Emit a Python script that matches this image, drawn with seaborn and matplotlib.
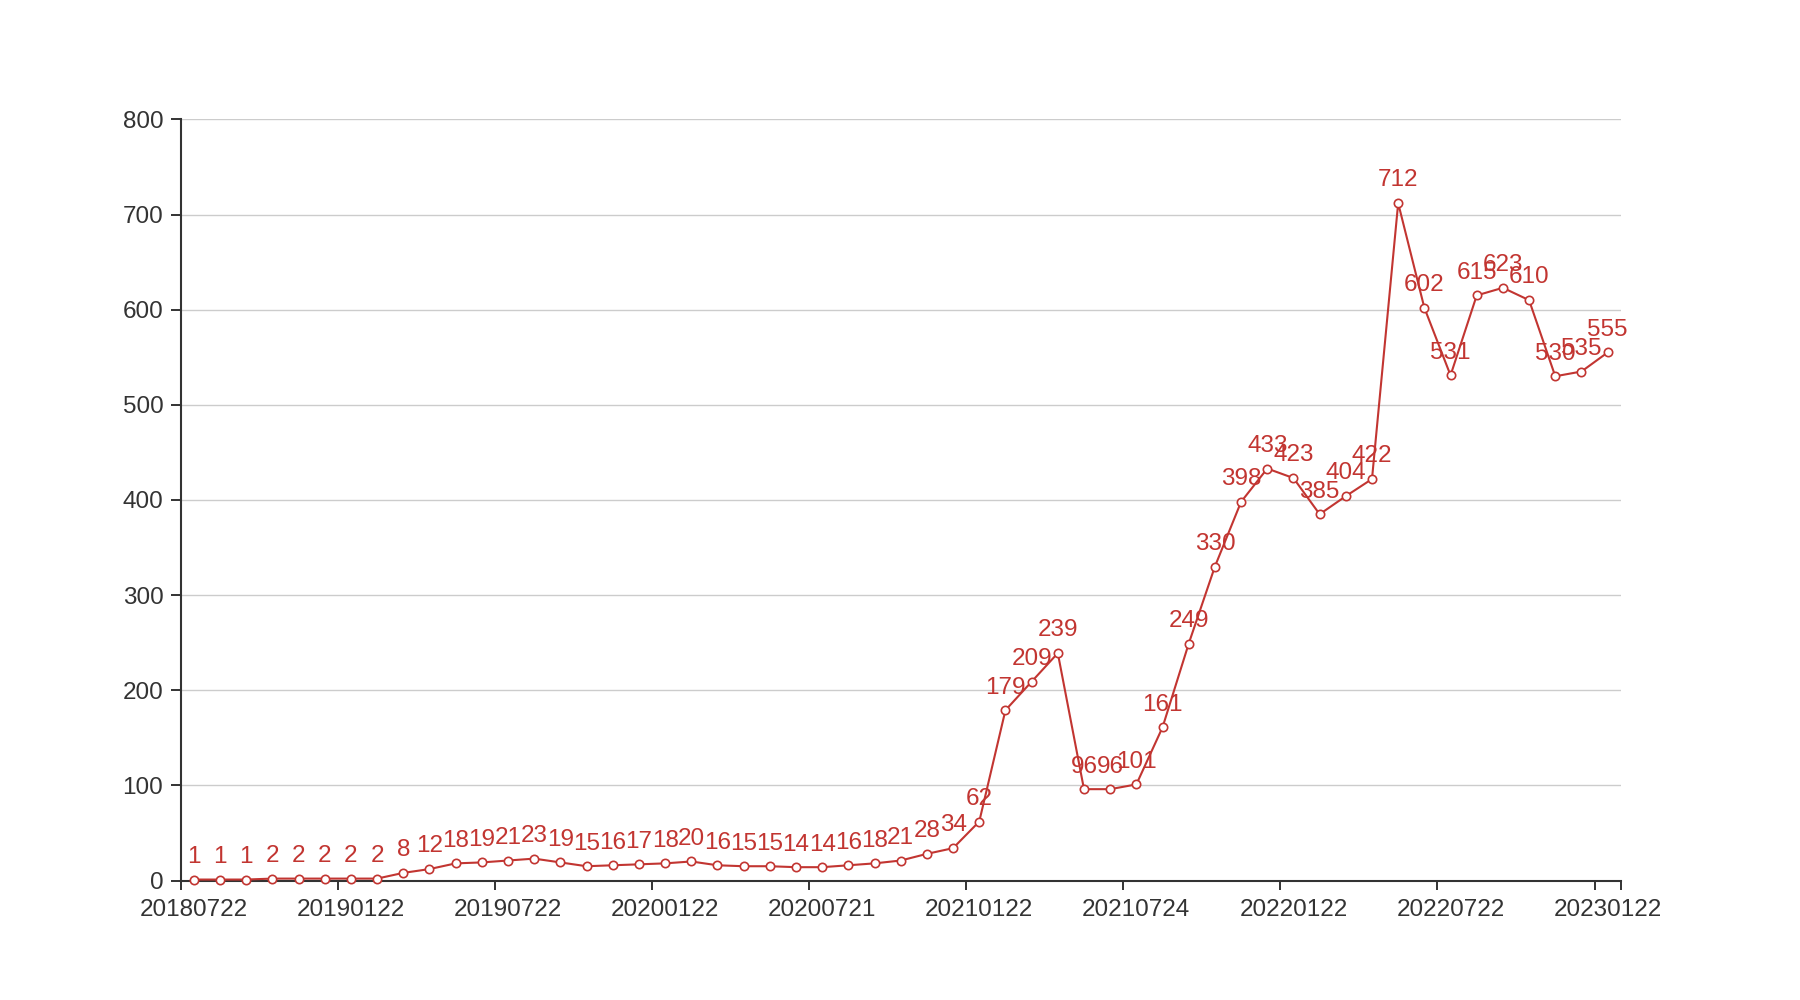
import numpy as np
import pandas as pd
import matplotlib
matplotlib.use("Agg")
import matplotlib.pyplot as plt
import seaborn as sns

# ---- data ----
values = [1, 1, 1, 2, 2, 2, 2, 2, 8, 12, 18, 19, 21, 23, 19, 15, 16, 17, 18, 20,
          16, 15, 15, 14, 14, 16, 18, 21, 28, 34, 62, 179, 209, 239, 96, 96, 101,
          161, 249, 330, 398, 433, 423, 385, 404, 422, 712, 602, 531, 615, 623,
          610, 530, 535, 555]
tick_labels = ["20180722", "20190122", "20190722", "20200122", "20200721",
               "20210122", "20210724", "20220122", "20220722", "20230122"]
label_step = 6
y_ticks = [0, 100, 200, 300, 400, 500, 600, 700, 800]

RED = "#c23531"
DARK = "#333333"
GRID = "#cccccc"
FS = 17.5

sns.set_style("white")
plt.rcParams["font.family"] = ["Liberation Sans", "DejaVu Sans"]

df = pd.DataFrame({"idx": np.arange(len(values)), "value": values})

fig = plt.figure(figsize=(18, 10), dpi=100)
ax = fig.add_axes([0.1004, 0.1195, 0.8, 0.7611])

for yv in y_ticks[1:]:
    ax.axhline(yv, color=GRID, lw=1.0, zorder=0)

sns.lineplot(data=df, x="idx", y="value", ax=ax, color=RED, lw=1.5,
             marker="o", markersize=6, markerfacecolor="white",
             markeredgecolor=RED, markeredgewidth=1.2)
for ln in ax.lines:
    if ln.get_color() == RED:
        ln.set_zorder(5)
        ln.set_clip_on(False)

for i, v in enumerate(values):
    ax.annotate(str(v), (i, v), xytext=(0, 12), textcoords="offset points",
                ha="center", va="baseline", color=RED, fontsize=FS, zorder=6)

n = len(values)
ax.set_xlim(-0.5, n - 0.5)
ax.set_ylim(0, 800)

major = list(np.arange(-0.5, n - 0.5, label_step)) + [n - 0.5]
ax.set_xticks(major)
ax.set_xticklabels([""] * len(major))
ax.set_xticks(np.arange(0, n, label_step), minor=True)
ax.set_xticklabels(tick_labels, minor=True)
ax.tick_params(axis="x", which="minor", bottom=True, length=0, pad=13,
               labelsize=FS, labelcolor=DARK)
ax.tick_params(axis="x", which="major", bottom=True, length=6.5, width=1.4,
               color=DARK, direction="out")

ax.set_yticks(y_ticks)
ax.set_yticklabels([str(t) for t in y_ticks])
ax.tick_params(axis="y", left=True, length=7.5, width=1.4, color=DARK, pad=5,
               labelsize=FS, labelcolor=DARK, direction="out")

for s in ["top", "right"]:
    ax.spines[s].set_visible(False)
for s in ["left", "bottom"]:
    ax.spines[s].set_color(DARK)
    ax.spines[s].set_linewidth(1.5)
    ax.spines[s].set_zorder(2)

ax.set_xlabel("")
ax.set_ylabel("")
ax.grid(False)

fig.savefig("out.png", dpi=100, facecolor="white")
